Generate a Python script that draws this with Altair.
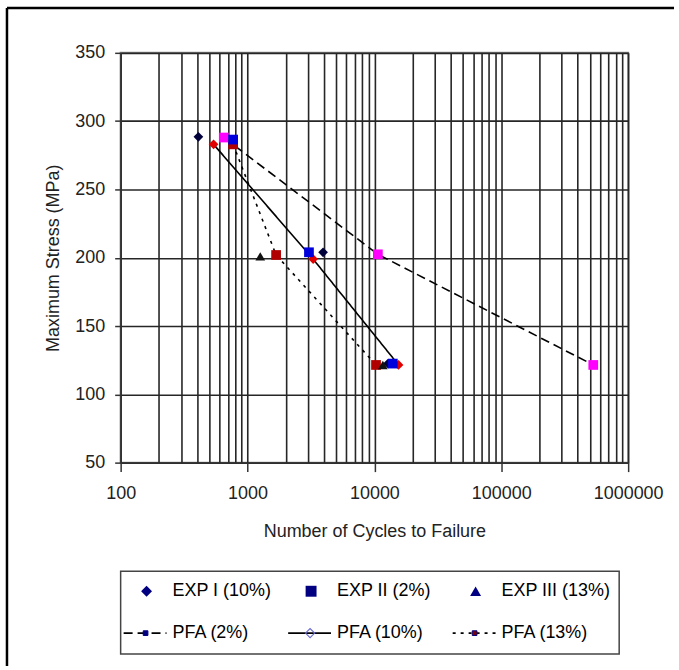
import altair as alt
import pandas as pd

# ---------------- data ----------------
pfa_names = ["PFA (2%)", "PFA (10%)", "PFA (13%)"]
pfa2_cycles = [650, 10650, 531000]
pfa2_stress = [288, 202.5, 121.5]
pfa10_cycles = [540, 3290, 15500]
pfa10_stress = [283, 199, 121.5]
pfa13_cycles = [770, 1680, 10300]
pfa13_stress = [283, 202, 121.5]

exp_names = ["EXP I (10%)", "EXP II (2%)", "EXP III (13%)"]
exp1_cycles = [410, 3940, 12800]
exp1_stress = [288.5, 204, 122.5]
exp2_cycles = [770, 3050, 13970]
exp2_stress = [286.5, 204, 122.5]
exp3_cycles = [1260, 11660]
exp3_stress = [201, 121.5]

x_major = [100, 1000, 10000, 100000, 1000000]
y_ticks = [50, 100, 150, 200, 250, 300, 350]
legend_labels = exp_names + pfa_names

FONT = "Liberation Sans"

# ---------------- tables ----------------
def long_table(names, cycles_lists, stress_lists):
    rows = []
    for n, cs, ss in zip(names, cycles_lists, stress_lists):
        for c, s in zip(cs, ss):
            rows.append({"series": n, "cycles": c, "stress": s})
    return pd.DataFrame(rows)

pfa_df = long_table(pfa_names, [pfa2_cycles, pfa10_cycles, pfa13_cycles],
                    [pfa2_stress, pfa10_stress, pfa13_stress])
exp_df = long_table(exp_names, [exp1_cycles, exp2_cycles, exp3_cycles],
                    [exp1_stress, exp2_stress, exp3_stress])
pts_df = pd.concat([pfa_df, exp_df], ignore_index=True)

grid_values = [m * 10 ** e for e in range(2, 6) for m in range(1, 10)] + [10 ** 6]
is_major = "abs(log(datum.value)/LN10 - round(log(datum.value)/LN10)) < 0.01"

x_enc = alt.X(
    "cycles:Q",
    scale=alt.Scale(type="log", domain=[100, 1000000]),
    axis=alt.Axis(
        values=grid_values,
        labelExpr=f"{is_major} ? format(datum.value, 'd') : ''",
        labelOverlap=False,
        labelFlush=False,
        tickSize=9,
        tickOpacity={"condition": {"test": is_major, "value": 1}, "value": 0},
        labelPadding=13,
        title="Number of Cycles to Failure",
        titlePadding=20,
    ),
)
y_enc = alt.Y(
    "stress:Q",
    scale=alt.Scale(domain=[50, 350]),
    axis=alt.Axis(
        values=y_ticks,
        tickSize=6,
        labelPadding=10,
        title="Maximum Stress (MPa)",
        titlePadding=12,
    ),
)

dash_scale = alt.Scale(domain=pfa_names, range=[[9, 5], [1, 0], [3, 5]])

frame_src = pd.DataFrame({"k": [0]})
frame_left = alt.Chart(frame_src).mark_rule(color="black", strokeWidth=2.5).encode(
    x=alt.value(-114), y=alt.value(-45), y2=alt.value(615)
)
frame_top = alt.Chart(frame_src).mark_rule(color="black", strokeWidth=2.5).encode(
    x=alt.value(-114), x2=alt.value(555), y=alt.value(-45)
)

lines = alt.Chart(pfa_df).mark_line(color="black", strokeWidth=1.6).encode(
    x=x_enc, y=y_enc,
    strokeDash=alt.StrokeDash("series:N", scale=dash_scale, legend=None),
    detail="series:N",
)

pt_domain = exp_names + pfa_names
points = alt.Chart(pts_df).mark_point(filled=True, opacity=1, size=95).encode(
    x=x_enc, y=y_enc,
    shape=alt.Shape("series:N", scale=alt.Scale(
        domain=pt_domain,
        range=["diamond", "square", "triangle-up", "square", "diamond", "square"]), legend=None),
    color=alt.Color("series:N", scale=alt.Scale(
        domain=pt_domain,
        range=["#00003a", "#0000dd", "#111111", "#ff00ff", "#e00000", "#b00000"]), legend=None),
)

main = alt.layer(frame_left, frame_top, lines, points).properties(
    width=509, height=411,
    view=alt.ViewBackground(stroke="#8a8a8a", strokeWidth=2),
)

# ---------------- legend box ----------------
leg_df = pd.DataFrame({
    "label": legend_labels,
    "col": [i % 3 for i in range(len(legend_labels))],
    "row": [i // 3 for i in range(len(legend_labels))],
})
lx = alt.X("col:Q", scale=alt.Scale(domain=[0, 3], range=[0, 495]), axis=None)
ly = alt.Y("row:Q", scale=alt.Scale(domain=[0, 1], range=[20, 62]), axis=None)

leg_text = alt.Chart(leg_df).mark_text(
    align="left", baseline="middle", dx=52, fontSize=18, font=FONT, color="black"
).encode(x=lx, y=ly, text="label:N")

leg_exp = alt.Chart(leg_df).transform_filter("datum.row == 0").mark_point(
    filled=True, opacity=1, xOffset=26, size=120, color="#000080"
).encode(
    x=lx, y=ly,
    shape=alt.Shape("label:N", scale=alt.Scale(domain=exp_names,
                    range=["diamond", "square", "triangle-up"]), legend=None),
)

leg_lines = alt.Chart(leg_df).transform_filter("datum.row == 1").mark_rule(
    color="black", strokeWidth=1.6, xOffset=3, x2Offset=46
).encode(
    x=lx, x2=alt.X2("col"), y=ly,
    strokeDash=alt.StrokeDash("label:N", scale=dash_scale, legend=None),
)

leg_squares = alt.Chart(leg_df).transform_filter(
    "datum.row == 1 && datum.col != 1"
).mark_square(opacity=1, xOffset=25, size=22, stroke="#000080", strokeWidth=1).encode(
    x=lx, y=ly,
    fill=alt.Fill("label:N", scale=alt.Scale(domain=[pfa_names[0], pfa_names[2]],
                  range=["#000080", "#800000"]), legend=None),
)

leg_diamond = alt.Chart(leg_df).transform_filter(
    "datum.row == 1 && datum.col == 1"
).mark_point(shape="diamond", filled=False, opacity=1, xOffset=25, size=85,
             color="#6a6ad0", strokeWidth=1.1).encode(x=lx, y=ly)

legend = alt.layer(leg_lines, leg_squares, leg_diamond, leg_exp, leg_text).properties(
    width=500, height=83,
    view=alt.ViewBackground(stroke="#444444", strokeWidth=1.5),
)

chart = alt.vconcat(main, legend, spacing=109, bounds="flush").properties(
    padding={"left": 4, "top": 4, "right": 2, "bottom": 2},
    background="white",
).configure_axis(
    labelFont=FONT, titleFont=FONT, labelFontSize=18, titleFontSize=18,
    labelColor="#222222", titleColor="#222222", titleFontWeight="normal",
    gridColor="#262626", gridWidth=1.6, gridOpacity=1,
    domainColor="#333333", domainWidth=1.5, tickColor="#333333", tickWidth=1.5,
)

chart.save("out.html", embed_options={"renderer": "svg", "actions": False})
